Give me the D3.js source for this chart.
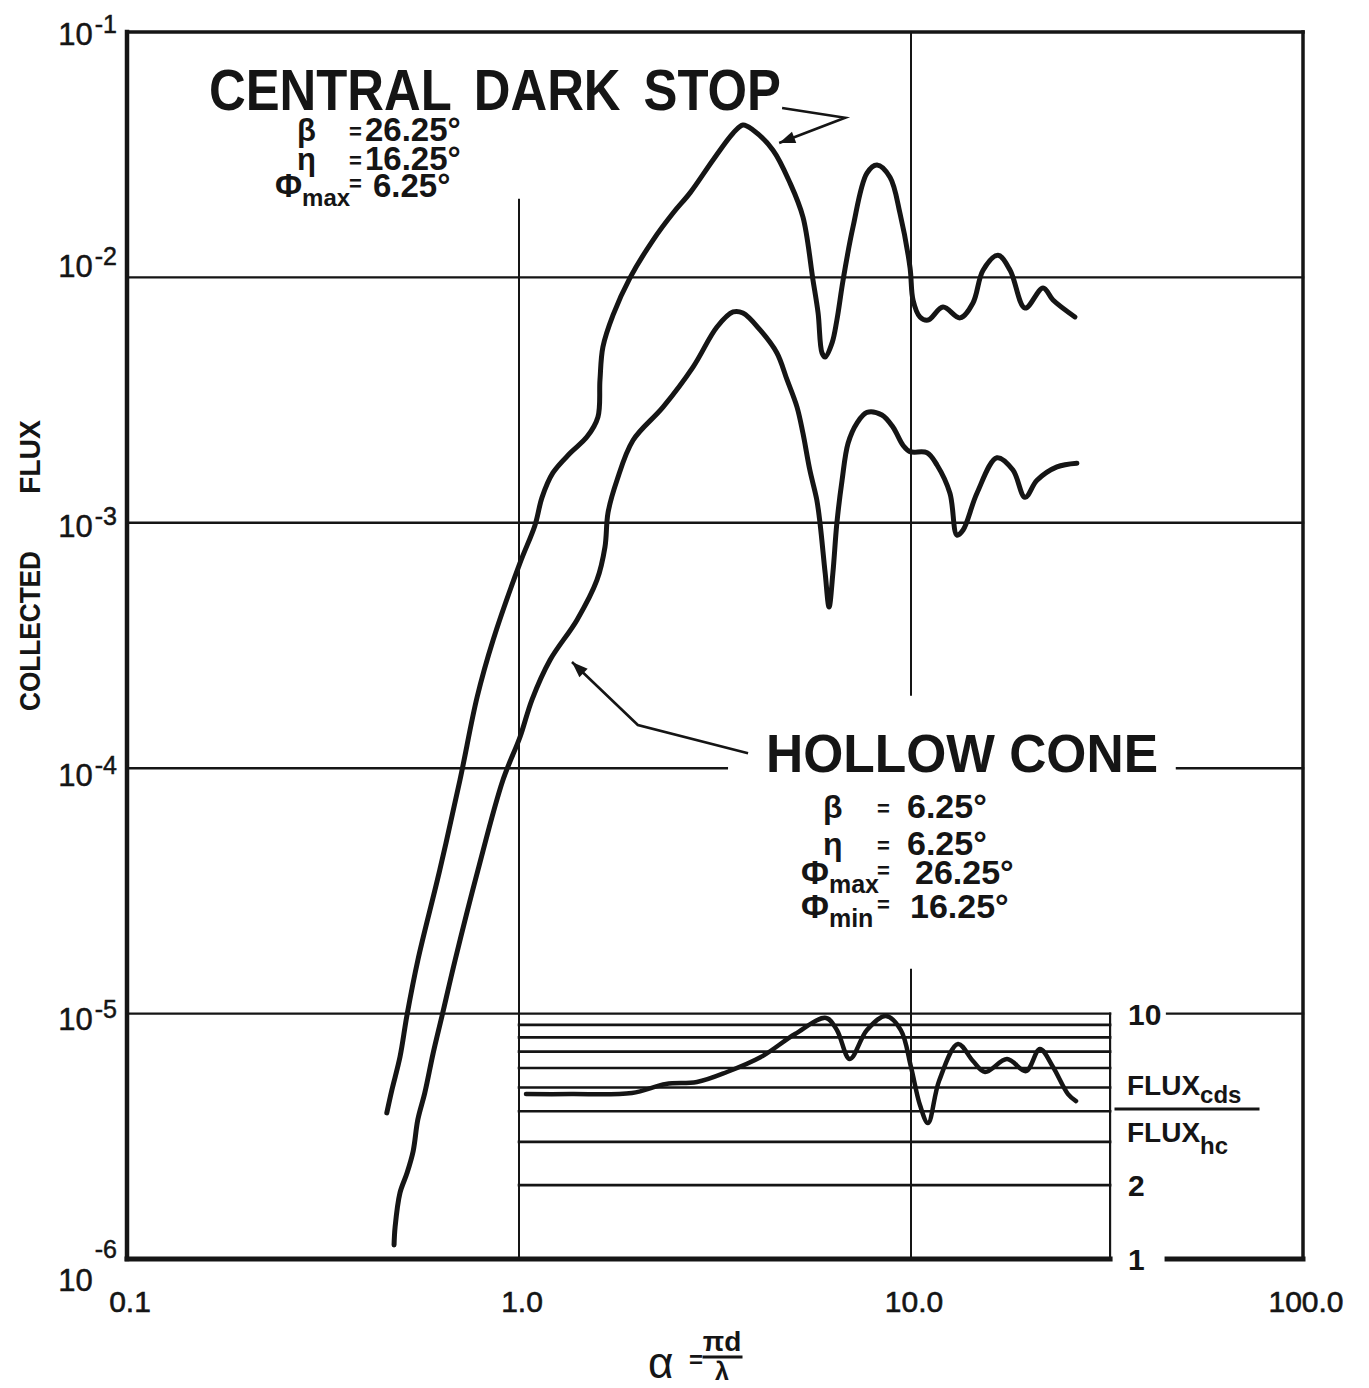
<!DOCTYPE html>
<html><head><meta charset="utf-8">
<script src="https://cdn.jsdelivr.net/npm/d3@7"></script>
<style>body{margin:0;background:#fff}svg text{font-family:"Liberation Sans",Arial,sans-serif;fill:#151515}</style>
</head><body>
<svg id="c" width="1369" height="1388"></svg>
<script>
// ---------- data ----------
const cdsAlpha = [0.460,0.474,0.497,0.518,0.552,0.628,0.707,0.782,0.859,1.006,1.099,1.145,1.221,1.349,1.491,1.590,1.609,1.637,1.738,1.919,2.198,2.472,2.731,3.126,3.516,3.726,3.953,4.446,4.911,5.302,5.623,5.794,5.93,6.04,6.29,6.47,6.71,7.11,7.72,8.19,8.84,9.37,9.94,10.12,10.54,11.05,12.07,13.34,14.39,15.27,16.67,17.90,19.54,21.72,23.03,26.19];
const cdsFlux = [3.94e-6,4.89e-6,6.65e-6,9.87e-6,1.65e-5,3.85e-5,8.95e-5,1.95e-4,3.33e-4,6.86e-4,9.8e-4,1.27e-3,1.60e-3,1.92e-3,2.24e-3,2.70e-3,3.82e-3,5.20e-3,7.03e-3,9.95e-3,1.42e-2,1.83e-2,2.21e-2,3.01e-2,3.87e-2,4.18e-2,3.99e-2,3.30e-2,2.43e-2,1.76e-2,9.75e-3,7.16e-3,4.92e-3,4.74e-3,5.41e-3,6.70e-3,9.75e-3,1.60e-2,2.66e-2,2.87e-2,2.56e-2,1.83e-2,1.10e-2,8.09e-3,6.90e-3,6.70e-3,7.57e-3,6.84e-3,7.87e-3,1.07e-2,1.23e-2,1.07e-2,7.50e-3,9.06e-3,8.09e-3,6.90e-3];
const hcAlpha = [0.480,0.483,0.497,0.518,0.537,0.552,0.575,0.604,0.637,0.687,0.786,0.910,1.006,1.079,1.200,1.406,1.581,1.657,1.687,1.778,1.954,2.330,2.779,3.199,3.516,3.726,4.121,4.55,4.83,5.12,5.30,5.52,5.75,5.86,6.04,6.18,6.32,6.47,6.67,6.91,7.28,7.72,8.43,9.00,9.54,9.94,10.99,11.65,12.57,13.10,13.58,14.73,16.57,18.20,19.54,20.96,23.57,26.50];
const hcFlux = [1.14e-6,1.35e-6,1.86e-6,2.24e-6,2.75e-6,3.70e-6,4.75e-6,6.90e-6,9.87e-6,1.65e-5,3.85e-5,8.95e-5,1.34e-4,1.90e-4,2.76e-4,4.02e-4,5.85e-4,7.97e-4,1.10e-3,1.49e-3,2.17e-3,2.96e-3,4.31e-3,6.28e-3,7.23e-3,7.16e-3,6.11e-3,4.92e-3,3.82e-3,2.96e-3,2.32e-3,1.64e-3,1.24e-3,9.97e-4,6.24e-4,4.54e-4,6.24e-4,9.97e-4,1.49e-3,2.11e-3,2.55e-3,2.82e-3,2.75e-3,2.45e-3,2.07e-3,1.95e-3,1.93e-3,1.72e-3,1.32e-3,8.91e-4,9.35e-4,1.32e-3,1.84e-3,1.64e-3,1.27e-3,1.49e-3,1.69e-3,1.75e-3];
const ratioAlpha = [1.042,1.358,1.941,2.371,2.844,3.394,4.14,5.06,6.07,6.47,6.98,7.72,8.63,9.42,10.0,10.54,11.05,11.79,13.18,14.39,15.45,17.58,19.65,21.32,23.03,25.15,26.36];
const ratioValue = [4.70,4.70,4.75,5.17,5.26,5.78,6.65,8.26,9.60,8.57,6.53,8.57,9.78,8.57,6.06,4.24,3.58,5.31,7.52,6.41,5.78,6.53,5.83,7.18,6.06,4.70,4.40];
const xTickValues = [0.1,1,10,100];
const xTickLabels = ["0.1","1.0","10.0","100.0"];
const yTickValues = [1e-1,1e-2,1e-3,1e-4,1e-5,1e-6];
const yTickExponents = ["-1","-2","-3","-4","-5","-6"];
const ratioGridValues = [2,3,4,5,6,7,8,9];
const ratioTickValues = [10,2,1];
const ratioTickLabels = ["10","2","1"];
const cdsTitle = "CENTRAL DARK STOP";
const hcTitle = "HOLLOW CONE";
const cdsParams = [["β","","26.25°"],["η","","16.25°"],["Φ","max","6.25°"]];
const hcParams = [["β","","6.25°"],["η","","6.25°"],["Φ","max","26.25°"],["Φ","min","16.25°"]];

// ---------- scales ----------
const ink = "#151515";
const svg = d3.select("#c");
const x = d3.scaleLog().domain([0.1,100]).range([127,1303]);
const y = d3.scaleLog().domain([1e-1,1e-6]).range([32,1259]);
const yr = d3.scaleLog().domain([1,10]).range([1259,1013.6]);
const insetEnd = 32.2;

function seg(x1,y1,x2,y2,w){
  svg.append("line").attr("x1",x1).attr("y1",y1).attr("x2",x2).attr("y2",y2)
    .attr("stroke",ink).attr("stroke-width",w).attr("stroke-linecap","square");
}

// ---------- grid ----------
[[1e-2,[[0.1,100]]],[1e-3,[[0.1,100]]],[1e-4,[[0.1,3.39],[47.7,100]]],[1e-5,[[0.1,insetEnd],[45,100]]]]
 .forEach(([v,parts])=>parts.forEach(p=>seg(x(p[0]),y(v),x(p[1]),y(v),2.4)));
seg(x(1),y(2.07e-2),x(1),y(1e-6),2);
seg(x(10),y(1e-1),x(10),y(1.99e-4),2);
seg(x(10),y(1.51e-5),x(10),y(1e-6),2);

// inset grid
ratioGridValues.forEach(v=>seg(x(1),yr(v),x(insetEnd),yr(v),2.6));
seg(x(insetEnd),yr(1),x(insetEnd),yr(10),2.2);

// frame
seg(x(0.1),y(1e-1),x(100),y(1e-1),3.5);
seg(x(0.1),y(1e-1),x(0.1),y(1e-6),4.5);
seg(x(100),y(1e-1),x(100),y(1e-6),3.5);
seg(x(0.1),y(1e-6),x(insetEnd),y(1e-6),5);
seg(x(45),y(1e-6),x(100),y(1e-6),5);

// ---------- curves ----------
const line = d3.line().curve(d3.curveCatmullRom.alpha(0.5));
function curve(ax,vals,ys,w){
  svg.append("path").attr("d",line(ax.map((a,i)=>[x(a),ys(vals[i])])))
    .attr("fill","none").attr("stroke",ink).attr("stroke-width",w)
    .attr("stroke-linecap","round").attr("stroke-linejoin","round");
}
curve(cdsAlpha,cdsFlux,y,5);
curve(hcAlpha,hcFlux,y,5);
curve(ratioAlpha,ratioValue,yr,4.5);

// ---------- tick labels ----------
const yLabOff = {"-1":13,"-2":0,"-3":14,"-4":18,"-5":16,"-6":32};
yTickValues.forEach((v,i)=>{
  const e = yTickExponents[i];
  const t = svg.append("text").attr("x",117).attr("y",y(v)+yLabOff[e])
    .attr("text-anchor","end").attr("font-size",31).attr("stroke",ink).attr("stroke-width",0.5);
  t.append("tspan").text("10");
  t.append("tspan").attr("dy",e==="-6"?-33:-12).attr("dx",2).attr("font-size",25).text(e);
});
xTickValues.forEach((v,i)=>{
  svg.append("text").attr("x",x(v)+3).attr("y",1312).attr("text-anchor","middle")
    .attr("font-size",30).attr("stroke",ink).attr("stroke-width",0.6).text(xTickLabels[i]);
});
ratioTickValues.forEach((v,i)=>{
  svg.append("text").attr("x",x(insetEnd)+18).attr("y",yr(v)+11)
    .attr("font-size",30).attr("font-weight","bold").text(ratioTickLabels[i]);
});

// ratio label
svg.append("text").attr("x",1127).attr("y",1095).attr("font-size",28).attr("font-weight","bold")
  .call(t=>{t.append("tspan").text("FLUX");t.append("tspan").attr("dy",8).attr("font-size",24).text("cds");});
seg(1116,1109,1258,1109,3);
svg.append("text").attr("x",1127).attr("y",1142).attr("font-size",28).attr("font-weight","bold")
  .call(t=>{t.append("tspan").text("FLUX");t.append("tspan").attr("dy",12).attr("font-size",24).text("hc");});

// ---------- axis titles ----------
svg.append("text").attr("transform","translate(40,631) rotate(-90)").attr("text-anchor","middle")
  .attr("font-size",29).attr("font-weight","bold").attr("textLength",160).attr("lengthAdjust","spacingAndGlyphs").text("COLLECTED");
svg.append("text").attr("transform","translate(40,457) rotate(-90)").attr("text-anchor","middle")
  .attr("font-size",29).attr("font-weight","bold").attr("textLength",74).attr("lengthAdjust","spacingAndGlyphs").text("FLUX");
svg.append("text").attr("x",648).attr("y",1378).attr("font-size",44).text("α");
svg.append("text").attr("x",689).attr("y",1368).attr("font-size",24).attr("font-weight","bold").text("=");
svg.append("text").attr("x",722).attr("y",1351).attr("text-anchor","middle").attr("font-size",28).attr("font-weight","bold").text("πd");
seg(704,1357,741,1357,3);
svg.append("text").attr("x",722).attr("y",1380).attr("text-anchor","middle").attr("font-size",25).attr("font-weight","bold").text("λ");

// ---------- annotations ----------
svg.append("text").attr("x",209).attr("y",110).attr("font-size",57).attr("font-weight","bold")
  .attr("word-spacing",10).attr("textLength",572).attr("lengthAdjust","spacingAndGlyphs").text(cdsTitle);
svg.append("text").attr("x",766).attr("y",772).attr("font-size",54).attr("font-weight","bold")
  .attr("textLength",392).attr("lengthAdjust","spacingAndGlyphs").text(hcTitle);

function params(list,symX,eqX,valX,base,fs){
  list.forEach((p,i)=>{
    const by = base[i];
    const s = svg.append("text").attr("x",symX-(p[1]?22:0)).attr("y",by).attr("font-size",p[1]?fs:fs-2).attr("font-weight","bold");
    s.append("tspan").text(p[0]);
    if(p[1]) s.append("tspan").attr("dy",9).attr("font-size",fs-9).text(p[1]);
    svg.append("text").attr("x",eqX).attr("y",by-(p[1]?6:2)).attr("font-size",22).attr("font-weight","bold").text("=");
    svg.append("text").attr("x",valX[i]).attr("y",by).attr("font-size",fs).attr("font-weight","bold").text(p[2]);
  });
}
params(cdsParams,297,349,[365,365,373],[141,170,197],33);
params(hcParams,823,877,[907,907,915,910],[818,855,884,918],34);

const aline = d3.line();
function arrow(pts){
  const P = pts.map(p=>[x(p[0]),y(p[1])]);
  svg.append("path").attr("d",aline(P)).attr("fill","none").attr("stroke",ink).attr("stroke-width",2.6);
  const [a,b] = [P[P.length-2],P[P.length-1]];
  const ang = Math.atan2(b[1]-a[1],b[0]-a[0]);
  const L=16,W=6;
  const bx=b[0]-L*Math.cos(ang), by=b[1]-L*Math.sin(ang);
  svg.append("path").attr("d",`M${b[0]},${b[1]}L${bx+W*Math.sin(ang)},${by-W*Math.cos(ang)}L${bx-W*Math.sin(ang)},${by+W*Math.cos(ang)}Z`)
    .attr("fill",ink);
}
arrow([[4.69,0.0490],[6.79,0.0447],[4.61,0.0353]]);
arrow([[3.84,1.15e-4],[2.01,1.50e-4],[1.365,2.71e-4]]);
</script>
</body></html>
